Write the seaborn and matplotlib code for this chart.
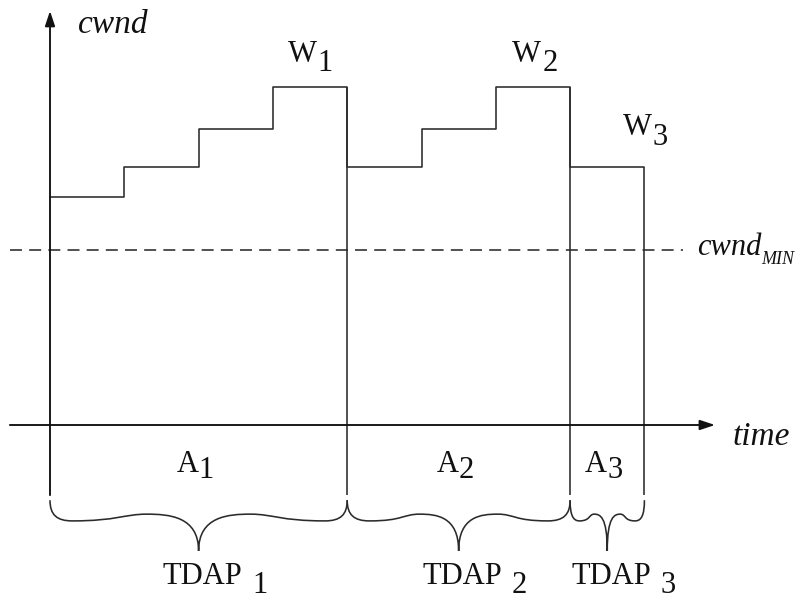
import seaborn as sns
import pandas
import matplotlib
import matplotlib.pyplot as plt
from matplotlib.path import Path
from matplotlib.patches import PathPatch

sns.set_style("white")
plt.rcParams["font.family"] = ["Liberation Serif", "DejaVu Serif"]

# time slots (one step per slot) and cwnd level held over each slot
step_time = [0, 1, 2, 3, 4, 5, 6, 7, 8]
step_cwnd = [5.4, 6.1, 7.0, 8.0, 6.1, 7.0, 8.0, 6.1]
# end of each TDAP period
period_end = [4, 7, 8]
period_names = ["1", "2", "3"]
cwnd_min = 4.15

LINE = "#2b2b2b"
TEXT = "#111111"
LW = 1.15
FS = 22
FS_IT = 24

# pixel grid of the original: 1 time unit = 74.3 px, 1 cwnd unit = 42.25 px
fig = plt.figure(figsize=(8.05, 5.99), dpi=100)
ax = fig.add_axes([0, 0, 1, 1])
ax.set_xlim(-50 / 74.3, 755 / 74.3)
ax.set_ylim(-174 / 42.25, 425 / 42.25)
ax.set_axis_off()

bottom = -1.66  # where the vertical lines stop
brace_top, brace_mid, brace_tip = -1.78, -2.27, -2.98

# step curve
df = pandas.DataFrame({"time": step_time, "cwnd": step_cwnd + [step_cwnd[-1]]})
sns.lineplot(data=df, x="time", y="cwnd", drawstyle="steps-post", estimator=None,
             color=LINE, linewidth=LW, ax=ax)

# vertical drops at the end of each period
for i, e in enumerate(period_end):
    top = max(step_cwnd[e - 1], step_cwnd[e] if e < len(step_cwnd) else 0)
    ax.vlines(e, bottom, top, color=LINE, linewidth=LW)

# cwnd_MIN dashed line
ax.hlines(cwnd_min, -0.54, 8.52, color=LINE, linewidth=LW, linestyles=(0, (7.5, 4.5)))

# axes with arrows
arrow = dict(arrowstyle="-|>,head_length=0.9,head_width=0.3", lw=LW + 0.2,
             color="#111111", shrinkA=0, shrinkB=0)
ax.annotate("", xy=(0, 9.8), xytext=(0, bottom), arrowprops=arrow)
ax.annotate("", xy=(8.95, 0), xytext=(-0.54, 0), arrowprops=arrow)


def label(x, y, main, sub, size=FS, sub_size=None, style="normal", ha="center",
          dx=0.5, dy=-1.7):
    t = ax.text(x, y, main, fontsize=size, style=style, color=TEXT, ha=ha, va="baseline")
    if sub:
        ax.annotate(sub, xy=(1, 0), xycoords=t, xytext=(dx, dy), textcoords="offset points",
                    fontsize=sub_size or size, style=style, color=TEXT, ha="left", va="baseline")
    return t


def half_brace(x0, xc, sign):
    # one half of a curly brace, from the end x0 to the tip at xc (sign: +1 left, -1 right)
    h = abs(xc - x0)
    a = min(0.3, 0.25 * h)
    d = brace_top - brace_mid
    px = xc - sign * 0.35 * h
    rise = brace_mid + 0.16
    return [
        (x0, brace_top - 0.7 * d), (x0 + sign * 0.3 * a, brace_mid), (x0 + sign * a, brace_mid),
        (x0 + sign * (a + 0.3 * h), brace_mid), (px - sign * 0.15 * h, rise), (px, rise),
        (px + sign * 0.15 * h, rise), (xc, rise - 0.05), (xc, brace_tip),
    ]


# braces under each period
starts = [0] + period_end[:-1]
for s, e, n in zip(starts, period_end, period_names):
    xc = (s + e) / 2
    left = half_brace(s, xc, 1)
    right = half_brace(e, xc, -1)
    # right half walked back from the tip to the end
    right_pts = [(e, brace_top)] + right
    right_rev = right_pts[::-1]
    verts = [(s, brace_top)] + left + right_rev[1:]
    codes = [Path.MOVETO] + [Path.CURVE4] * (len(verts) - 1)
    ax.add_patch(PathPatch(Path(verts, codes), fill=False, edgecolor=LINE, linewidth=LW))

    label(xc - 0.15, -1.11, "A", n, dx=0, dy=0.5)
    label(xc + 0.05, -3.76, "TDAP", n, dx=7)

# W labels over the top of each period
label(3.39, 8.59, "W", "1", dx=1)
label(6.41, 8.59, "W", "2", dx=1)
label(7.9, 6.86, "W", "3", dx=1)

ax.text(0.377, 9.28, "cwnd", fontsize=FS_IT, style="italic", color=TEXT, ha="left", va="baseline")
ax.text(9.19, -0.47, "time", fontsize=FS_IT, style="italic", color=TEXT, ha="left", va="baseline")
label(8.71, 4.02, "cwnd", "MIN", size=FS_IT - 2, sub_size=13, style="italic", ha="left",
      dx=0, dy=-1.2)

fig.savefig("out.png", dpi=100)
